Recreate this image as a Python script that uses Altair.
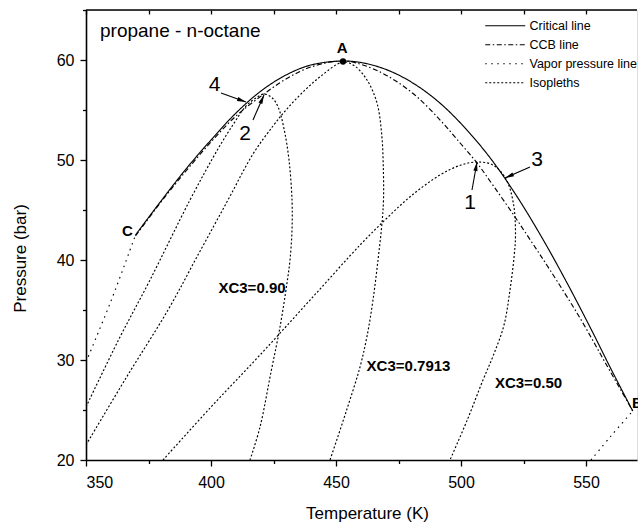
import math
import altair as alt
import pandas as pd

# ---------------- data ----------------
series_names = ["Critical line", "CCB line", "Vapor pressure line", "Isopleths"]

crit_T = [369.8, 380, 390, 400, 410, 420, 430, 440, 452.8, 462, 472, 482, 492, 502, 512, 522, 532, 542, 552, 560, 568.7]
crit_P = [42.5, 45.9, 49.1, 52.0, 54.7, 56.9, 58.5, 59.5, 59.9, 59.65, 58.85, 57.5, 55.6, 53.1, 50.1, 46.5, 42.4, 37.9, 33.1, 29.1, 24.9]

ccb_T = [369.8, 380, 390, 400, 410, 421.2, 430, 440, 452.8, 462, 472, 482, 492, 500, 506.4, 513, 520.8, 528, 535.6, 547.6, 558, 568.7]
ccb_P = [42.4, 45.8, 48.9, 51.8, 54.4, 56.6, 58.1, 59.3, 59.9, 59.4, 58.2, 56.4, 53.9, 51.6, 49.7, 47.4, 44.6, 41.9, 39.0, 34.2, 29.6, 24.9]

vap_c3_T = [350, 360, 369.8]
vap_c3_P = [29.8, 35.9, 42.5]
vap_c8_T = [552, 560, 568.7]
vap_c8_P = [20, 22.4, 24.9]

iso90_T = [350, 363, 375.6, 391.6, 403, 409, 414, 418, 421.2, 424.5, 427, 429.3, 431.2, 432.4, 432.4, 431.6, 430.4, 427.6, 424, 419.6, 415.6]
iso90_P = [25.3, 32, 38, 46, 51.2, 53.6, 55.4, 56.2, 56.6, 56.2, 55.2, 53, 50, 46, 43, 40, 37.7, 33.3, 28.8, 23.3, 20]

iso79_T = [350, 366, 382.8, 395, 406.8, 416.8, 424.8, 430, 436.8, 444, 452.8, 457.5, 462.4, 466.4, 468.3, 468.9, 469, 468.4, 466.8, 464.8, 462.5, 459.6, 454, 447.6]
iso79_P = [21.5, 28.2, 35, 40.6, 46, 50.6, 53.4, 55.0, 56.8, 58.4, 59.8, 59.4, 58.0, 55.7, 52.5, 49.5, 46, 43.7, 40, 36, 32.5, 29.3, 24.8, 20]

iso50_T = [380.8, 400, 419.6, 440, 460, 470, 480, 491.6, 500, 506.4, 512.8, 518, 521, 521.8, 521.3, 519.6, 517.2, 513, 508.8, 502.5, 495.6]
iso50_P = [20, 25.3, 30.5, 36.1, 41.6, 44.1, 46.4, 48.5, 49.5, 49.8, 49.5, 48.1, 45.6, 42.5, 40.5, 37, 33.5, 30.5, 28, 24, 20]

# annotations
letters = ["A", "B", "C"]
letter_T = [452.5, 568.4, 366.6]
letter_P = [61.2, 25.75, 42.9]
letter_align = ["center", "left", "center"]

iso_labels = ["XC3=0.90", "XC3=0.7913", "XC3=0.50"]
iso_label_T = [416.4, 479.0, 527.0]
iso_label_P = [37.2, 29.4, 27.75]

arrow_labels = ["4", "2", "1", "3"]
arrow_label_T = [401.4, 413.6, 503.6, 530.4]
arrow_label_P = [57.5, 52.6, 45.7, 50.0]
arrow_tail_T = [404.0, 416.8, 504.4, 527.6]
arrow_tail_P = [56.7, 54.0, 47.0, 49.3]
arrow_head_T = [414.0, 421.2, 506.4, 517.6]
arrow_head_P = [55.8, 56.5, 49.8, 48.2]

point_A_T = [452.8]
point_A_P = [59.85]

title_text = ["propane - n-octane"]
title_T = [355.6]
title_P = [62.3]

# ---------------- build tables ----------------
rows = []
def add(series, curve, Ts, Ps):
    for i, (t, p) in enumerate(zip(Ts, Ps)):
        rows.append({"series": series, "curve": curve, "idx": i, "T": t, "P": p})

add("Critical line", "crit", crit_T, crit_P)
add("CCB line", "ccb", ccb_T, ccb_P)
add("Vapor pressure line", "vc3", vap_c3_T, vap_c3_P)
add("Vapor pressure line", "vc8", vap_c8_T, vap_c8_P)
add("Isopleths", "i90", iso90_T, iso90_P)
add("Isopleths", "i79", iso79_T, iso79_P)
add("Isopleths", "i50", iso50_T, iso50_P)
df = pd.DataFrame(rows)

W, H = 551, 450
T0, T1 = 350, 570.4
P0, P1 = 20, 65
kx = W / (T1 - T0)
ky = H / (P1 - P0)

arrows = pd.DataFrame({
    "lab": arrow_labels, "lT": arrow_label_T, "lP": arrow_label_P,
    "tT": arrow_tail_T, "tP": arrow_tail_P, "hT": arrow_head_T, "hP": arrow_head_P,
})
arrows["ang"] = [
    (math.degrees(math.atan2((h - t) * kx, (hp - tp) * ky)) + 360) % 360
    for t, tp, h, hp in zip(arrows.tT, arrows.tP, arrows.hT, arrows.hP)
]

FONT = "Liberation Sans"
xs = alt.Scale(domain=[T0, T1], nice=False, zero=False)
ys = alt.Scale(domain=[P0, P1], nice=False, zero=False)

x_axis = alt.Axis(
    values=list(range(350, 576, 25)),
    labelExpr="datum.value % 50 == 0 ? datum.label : ''",
    tickSize={"condition": {"test": "datum.value % 50 == 0", "value": 6}, "value": 3.5},
    tickColor="black", tickWidth=1.3, domainColor="black", domainWidth=1.6,
    labelFont=FONT, labelFontSize=16, labelColor="black", labelPadding=8,
    grid=False, title="Temperature (K)", titleFont=FONT, titleFontSize=17,
    titleFontWeight="normal", titleColor="black", titleX=281, titleY=45, titleBaseline="top",
)
y_axis = alt.Axis(
    values=list(range(20, 66, 5)),
    labelExpr="datum.value % 10 == 0 ? datum.label : ''",
    tickSize={"condition": {"test": "datum.value % 10 == 0", "value": 6}, "value": 3.5},
    tickColor="black", tickWidth=1.3, domainColor="black", domainWidth=1.6,
    labelFont=FONT, labelFontSize=16, labelColor="black", labelPadding=6,
    grid=False, title="Pressure (bar)", titleFont=FONT, titleFontSize=17,
    titleFontWeight="normal", titleColor="black", titleX=-57, titleY=248,
)
top_axis = alt.Axis(
    orient="top", values=list(range(350, 576, 25)), labels=False, domain=False,
    tickSize=4, tickColor="black", tickWidth=1.3, offset=-4, grid=False, title=None,
)

lines = alt.Chart(df).mark_line(
    interpolate="catmull-rom", color="black", strokeWidth=1.15, clip=True
).encode(
    x=alt.X("T:Q", scale=xs, axis=x_axis),
    y=alt.Y("P:Q", scale=ys, axis=y_axis),
    strokeDash=alt.StrokeDash(
        "series:N",
        scale=alt.Scale(domain=series_names,
                        range=[[1, 0], [5, 2.5, 1.5, 2.5], [1.5, 4.5], [2, 2]]),
        legend=alt.Legend(
            orient="none", legendX=413, legendY=9.5, title=None,
            symbolType="M-4,0H4", symbolSize=100, symbolStrokeWidth=1.1,
            symbolStrokeColor="black", labelFont=FONT, labelFontSize=12.5,
            labelColor="black", labelOffset=18, rowPadding=6, padding=0,
        ),
    ),
    detail="curve:N",
    order="idx:Q",
)

frame_top = alt.Chart(pd.DataFrame({"P": [P1]})).mark_rule(
    color="black", strokeWidth=1.6
).encode(y=alt.Y("P:Q", scale=ys, axis=None))

point_a = alt.Chart(pd.DataFrame({"T": point_A_T, "P": point_A_P})).mark_point(
    shape="circle", filled=True, color="black", size=40, opacity=1
).encode(x=alt.X("T:Q", scale=xs, axis=top_axis), y=alt.Y("P:Q", scale=ys, axis=None))

letter_df = pd.DataFrame({"t": letters, "T": letter_T, "P": letter_P, "al": letter_align})
letter_c = alt.Chart(letter_df[letter_df.al == "center"]).mark_text(
    font=FONT, fontSize=15, fontWeight="bold", color="black", align="center", baseline="middle"
).encode(x=alt.X("T:Q", scale=xs, axis=None), y=alt.Y("P:Q", scale=ys, axis=None), text="t:N")
letter_l = alt.Chart(letter_df[letter_df.al == "left"]).mark_text(
    font=FONT, fontSize=15, fontWeight="bold", color="black", align="left", baseline="middle"
).encode(x=alt.X("T:Q", scale=xs, axis=None), y=alt.Y("P:Q", scale=ys, axis=None), text="t:N")

iso_text = alt.Chart(pd.DataFrame({"t": iso_labels, "T": iso_label_T, "P": iso_label_P})).mark_text(
    font=FONT, fontSize=15, fontWeight="bold", color="black", align="center", baseline="middle"
).encode(x=alt.X("T:Q", scale=xs, axis=None), y=alt.Y("P:Q", scale=ys, axis=None), text="t:N")

num_text = alt.Chart(arrows).mark_text(
    font=FONT, fontSize=21, color="black", align="center", baseline="middle"
).encode(x=alt.X("lT:Q", scale=xs, axis=None), y=alt.Y("lP:Q", scale=ys, axis=None), text="lab:N")

shafts = alt.Chart(arrows).mark_rule(color="black", strokeWidth=1.1).encode(
    x=alt.X("tT:Q", scale=xs, axis=None), y=alt.Y("tP:Q", scale=ys, axis=None),
    x2="hT:Q", y2="hP:Q",
)
heads = alt.Chart(arrows).mark_point(
    shape="M0,0L-0.7,3L0.7,3Z", filled=True, color="black", size=36, opacity=1
).encode(
    x=alt.X("hT:Q", scale=xs, axis=None), y=alt.Y("hP:Q", scale=ys, axis=None),
    angle=alt.Angle("ang:Q", scale=None),
)

title = alt.Chart(pd.DataFrame({"t": title_text, "T": title_T, "P": title_P})).mark_text(
    font=FONT, fontSize=19, color="black", align="left", baseline="alphabetic"
).encode(x=alt.X("T:Q", scale=xs, axis=None), y=alt.Y("P:Q", scale=ys, axis=None), text="t:N")

chart = alt.layer(
    lines, frame_top, point_a, letter_c, letter_l, iso_text, num_text, shafts, heads, title
).resolve_axis(x="independent", y="independent").properties(
    width=W, height=H,
    autosize=alt.AutoSizeParams(type="none"),
    padding={"left": 86, "top": 10, "right": 1, "bottom": 63},
).configure_view(stroke=None).configure(font=FONT, background="white")

chart.save("out.html", embed_options={"renderer": "svg", "actions": False})
